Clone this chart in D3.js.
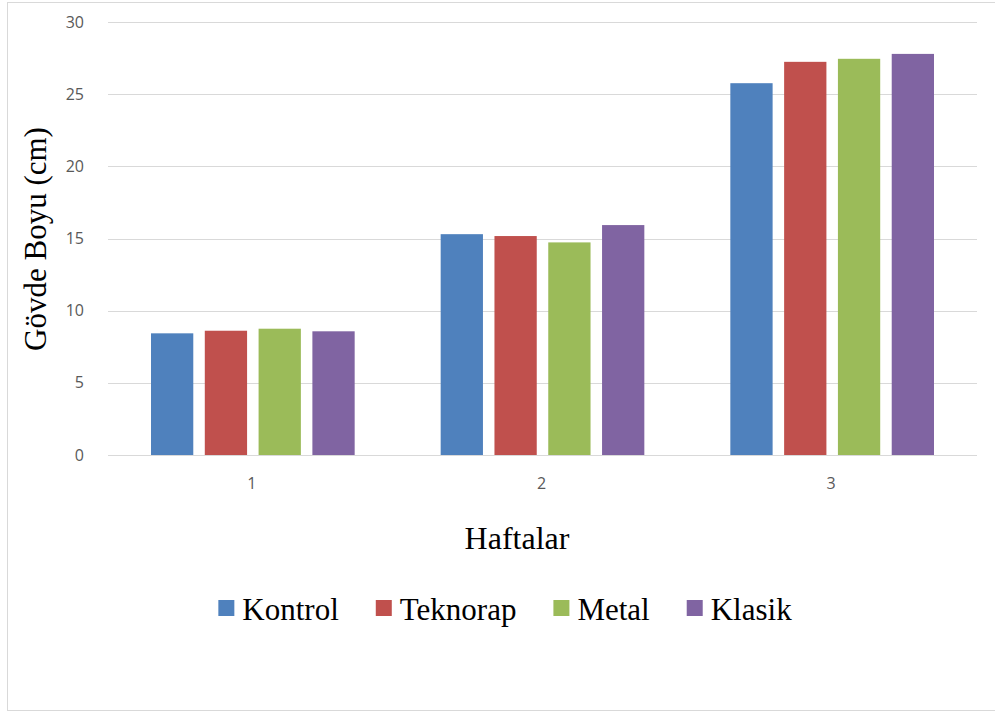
<!DOCTYPE html>
<html lang="tr">
<head>
    <meta charset="UTF-8">
    <title>Gövde Boyu</title>
    <script src="https://d3js.org/d3.v7.min.js"></script>
    <style>
        body {
            margin: 0;
            background: #fff;
        }
        .tick text {
            font-family: "Open Sans", "Noto Sans", sans-serif;
            font-size: 16px;
            fill: #595959;
        }
        .serif {
            font-family: "Liberation Serif", "DejaVu Serif", serif;
            fill: #000;
        }
    </style>
</head>
<body>
    <div id="chart"></div>

    <script>
        const weeks = ["1", "2", "3"];
        const series = ["Kontrol", "Teknorap", "Metal", "Klasik"];
        const kontrol = [8.43, 15.30, 25.76];
        const teknorap = [8.61, 15.17, 27.24];
        const metal = [8.75, 14.73, 27.45];
        const klasik = [8.57, 15.93, 27.79];
        const yTicks = [0, 5, 10, 15, 20, 25, 30];
        const colors = ["#4f81bd", "#c0504d", "#9bbb59", "#8064a2"];

        const values = [kontrol, teknorap, metal, klasik];
        const rows = weeks.map((w, i) => ({
            week: w,
            vals: series.map((s, j) => ({ name: s, value: values[j][i] }))
        }));

        const W = 995, H = 713;
        const plotLeft = 108, plotRight = 977, plotTop = 22, plotBottom = 455;

        const svg = d3.select("#chart")
            .append("svg")
            .attr("width", W)
            .attr("height", H);

        // frame
        svg.append("rect")
            .attr("x", 7.5)
            .attr("y", 2.5)
            .attr("width", 1000)
            .attr("height", 708)
            .attr("fill", "#fff")
            .attr("stroke", "#d9d9d9")
            .attr("stroke-width", 1);

        const x0 = d3.scaleBand()
            .domain(weeks)
            .range([plotLeft, plotRight])
            .padding(0);

        const groupPad = 43;
        const x1 = d3.scaleBand()
            .domain(series)
            .range([groupPad, x0.bandwidth() - groupPad])
            .paddingInner(0.214)
            .paddingOuter(0);

        const y = d3.scaleLinear()
            .domain([0, 30])
            .range([plotBottom, plotTop]);

        // gridlines
        svg.append("g")
            .selectAll("line")
            .data(yTicks)
            .enter()
            .append("line")
            .attr("x1", plotLeft)
            .attr("x2", plotRight)
            .attr("y1", d => Math.round(y(d)) + 0.5)
            .attr("y2", d => Math.round(y(d)) + 0.5)
            .attr("stroke", "#d9d9d9")
            .attr("stroke-width", 1);

        const yAxis = d3.axisLeft(y)
            .tickValues(yTicks)
            .tickSize(0)
            .tickPadding(0);

        svg.append("g")
            .attr("transform", `translate(84, 0)`)
            .call(yAxis)
            .call(g => g.select(".domain").remove());

        // bars
        svg.append("g")
            .selectAll("g")
            .data(rows)
            .enter()
            .append("g")
            .attr("transform", d => `translate(${x0(d.week)}, 0)`)
            .selectAll("rect")
            .data(d => d.vals)
            .enter()
            .append("rect")
            .attr("x", d => x1(d.name))
            .attr("y", d => y(d.value))
            .attr("width", x1.bandwidth())
            .attr("height", d => y(0) - y(d.value))
            .attr("fill", (d, i) => colors[i]);

        const xAxis = d3.axisBottom(x0)
            .tickSize(0)
            .tickPadding(0);

        svg.append("g")
            .attr("transform", `translate(-1, 478)`)
            .call(xAxis)
            .call(g => g.select(".domain").remove());

        // titles
        svg.append("text")
            .attr("class", "serif")
            .attr("x", 517)
            .attr("y", 549)
            .attr("text-anchor", "middle")
            .style("font-size", "32px")
            .text("Haftalar");

        svg.append("text")
            .attr("class", "serif")
            .attr("transform", "translate(46, 239) rotate(-90)")
            .attr("text-anchor", "middle")
            .style("font-size", "31px")
            .text("Gövde Boyu (cm)");

        // legend
        const legend = svg.append("g");
        const items = legend.selectAll("g")
            .data(series)
            .enter()
            .append("g");

        items.append("rect")
            .attr("width", 16)
            .attr("height", 16)
            .attr("y", 600)
            .attr("fill", (d, i) => colors[i]);

        items.append("text")
            .attr("class", "serif")
            .attr("x", 24)
            .attr("y", 620)
            .style("font-size", "31px")
            .text(d => d);

        const widths = [];
        items.each(function () {
            const w = 24 + d3.select(this).select("text").node().getComputedTextLength();
            widths.push(w);
        });
        const gap = 37;
        const total = d3.sum(widths) + gap * (widths.length - 1);
        let pos = 505 - total / 2;
        items.attr("transform", (d, i) => {
            const t = `translate(${pos}, 0)`;
            pos += widths[i] + gap;
            return t;
        });
    </script>
</body>
</html>
